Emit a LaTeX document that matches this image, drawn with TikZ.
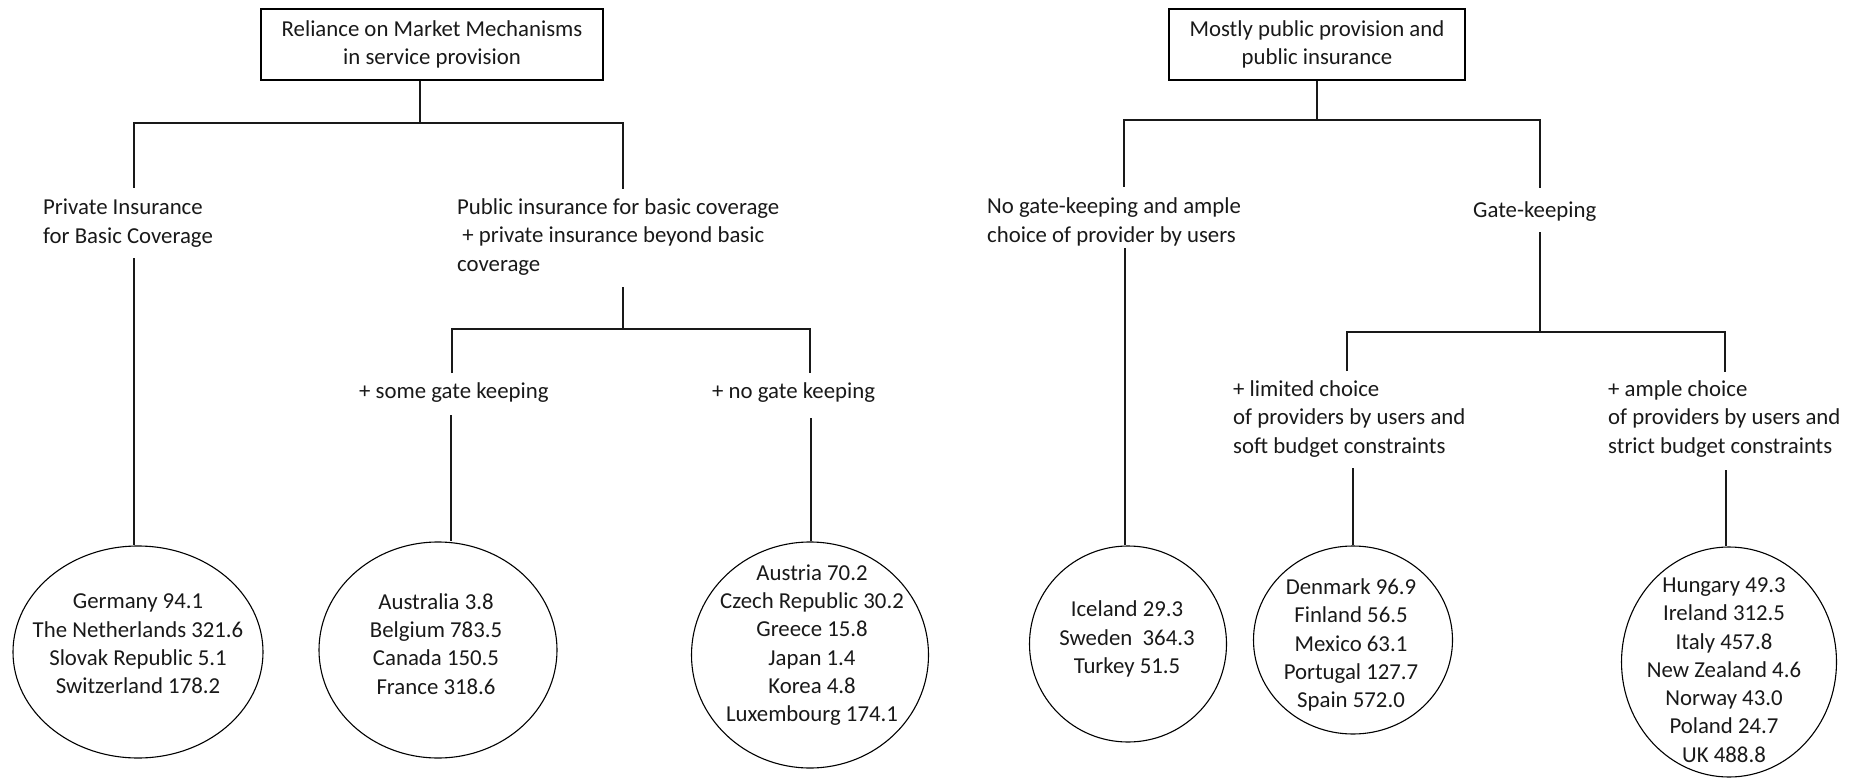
\documentclass[tikz,border=0pt]{standalone}
\usepackage{fontspec}
\setmainfont{Carlito}
\usetikzlibrary{shapes.geometric}
\begin{document}
\begin{tikzpicture}[x=1pt,y=-1pt,
  every node/.style={font=\fontsize{22.8}{28.3}\selectfont, inner sep=0pt, text=black!90},
  lbl/.style={anchor=west, align=left},
  ctr/.style={align=center},
  topbox/.style={draw, line width=1.3pt, align=center, minimum height=71pt},
  oval/.style={ellipse, draw, line width=1.1pt},
  conn/.style={line width=1.1pt, draw=black!90}]
\useasboundingbox (0,0) rectangle (1857,778);

% ---------- left tree ----------
\node[topbox, minimum width=342pt] (b1) at (432,44.5) {Reliance on Market Mechanisms\\in service provision};
\node[lbl] (priv) at (43,223) {Private Insurance\\for Basic Coverage};
\node[lbl] (publ) at (457,237) {Public insurance for basic coverage\\\ + private insurance beyond basic\\coverage};
\node[lbl] (some) at (359,393) {+ some gate keeping};
\node[lbl] (nogk) at (712,393) {+ no gate keeping};

\node[oval, minimum width=250pt, minimum height=212pt] (c1) at (138,652) {};
\node[ctr] (c1t) at (138,644) {Germany 94.1\\The Netherlands 321.6\\Slovak Republic 5.1\\Switzerland 178.2};
\node[oval, minimum width=238pt, minimum height=216pt] (c2) at (438,650) {};
\node[ctr] (c2t) at (436,644) {Australia 3.8\\Belgium 783.5\\Canada 150.5\\France 318.6};
\node[oval, minimum width=237pt, minimum height=226pt] (c3) at (810,655) {};
\node[ctr] (c3t) at (812,645) {Austria 70.2\\Czech Republic 30.2\\Greece 15.8\\Japan 1.4\\Korea 4.8\\Luxembourg 174.1};

\coordinate (j1) at (420,123);
\coordinate (a1) at (134,188);
\coordinate (a2) at (623,189);
\draw[conn] (b1.south -| j1) -- (j1);
\draw[conn] (a1) |- (j1) -| (a2);
\coordinate (d1) at (134,258);
\draw[conn] (d1) -- (d1 |- c1.north);

\coordinate (t2) at (623,287);
\coordinate (j2) at (623,329);
\coordinate (a3) at (452,373);
\coordinate (a4) at (810,373);
\draw[conn] (t2) -- (j2);
\draw[conn] (a3) |- (j2) -| (a4);
\coordinate (d2) at (451,415);
\draw[conn] (d2) -- (d2 |- c2.north);
\coordinate (d3) at (811,418);
\draw[conn] (d3) -- (d3 |- c3.north);

% ---------- right tree ----------
\node[topbox, minimum width=296pt] (b2) at (1317,44.5) {Mostly public provision and\\public insurance};
\node[lbl] (nogate) at (987,222) {No gate-keeping and ample\\choice of provider by users};
\node[lbl] (gate) at (1473,212) {Gate-keeping};
\node[lbl] (limited) at (1233,419) {+ limited choice\\of providers by users and\\soft budget constraints};
\node[lbl] (ample) at (1608,419) {+ ample choice\\of providers by users and\\strict budget constraints};

\node[oval, minimum width=197pt, minimum height=196pt] (c4) at (1128,644) {};
\node[ctr] (c4t) at (1127,639) {Iceland 29.3\\Sweden\ \ 364.3\\Turkey 51.5};
\node[oval, minimum width=199pt, minimum height=188pt] (c5) at (1353,640) {};
\node[ctr] (c5t) at (1351,645) {Denmark 96.9\\Finland 56.5\\Mexico 63.1\\Portugal 127.7\\Spain 572.0};
\node[oval, minimum width=215pt, minimum height=230pt] (c6) at (1729,662) {};
\node[ctr] (c6t) at (1724,670) {Hungary 49.3\\Ireland 312.5\\Italy 457.8\\New Zealand 4.6\\Norway 43.0\\Poland 24.7\\UK 488.8};

\coordinate (j3) at (1317,120);
\coordinate (a5) at (1124,187);
\coordinate (a6) at (1540,188);
\draw[conn] (b2.south -| j3) -- (j3);
\draw[conn] (a5) |- (j3) -| (a6);
\coordinate (d4) at (1125,248);
\draw[conn] (d4) -- (d4 |- c4.north);

\coordinate (t5) at (1540,232);
\coordinate (j4) at (1540,332);
\coordinate (a7) at (1347,371);
\coordinate (a8) at (1725,372);
\draw[conn] (t5) -- (j4);
\draw[conn] (a7) |- (j4) -| (a8);
\coordinate (d5) at (1353,468);
\draw[conn] (d5) -- (d5 |- c5.north);
\coordinate (d6) at (1726,470);
\draw[conn] (d6) -- (d6 |- c6.north);
\end{tikzpicture}
\end{document}
